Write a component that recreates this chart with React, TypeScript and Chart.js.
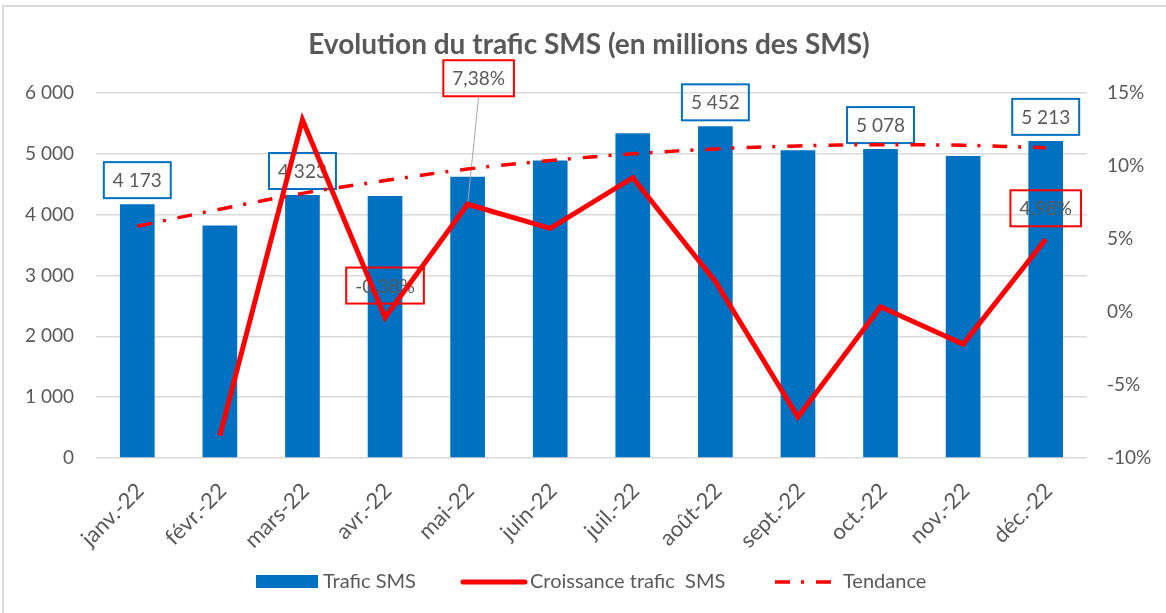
import React, { useEffect, useRef } from "react";
import { Chart, registerables } from "chart.js";
Chart.register(...registerables);

const months = ["janv.-22", "févr.-22", "mars-22", "avr.-22", "mai-22", "juin-22", "juil.-22", "août-22", "sept.-22", "oct.-22", "nov.-22", "déc.-22"];
const traficSMS = [4173, 3820, 4323, 4307, 4625, 4890, 5340, 5452, 5060, 5078, 4966, 5213];
const croissance = [null, -8.46, 13.17, -0.38, 7.38, 5.73, 9.2, 2.1, -7.19, 0.36, -2.2, 4.98];
const tendance = [3810, 4090, 4350, 4560, 4750, 4890, 5000, 5080, 5130, 5150, 5140, 5100];
const barLabelIdx = [0, 2, 7, 9, 11];
const growthLabelIdx = [3, 4, 11];
const legendLabels = ["Trafic SMS", "Croissance trafic  SMS", "Tendance"];
const titleText = "Evolution du trafic SMS (en millions des SMS)";

const GRAY = "#595959";
const BLUE = "#0070C0";
const RED = "#FF0000";
const FONT = "Lato";

const fmtThousands = (v: number) => {
  const s = Math.round(v).toString();
  return s.replace(/\B(?=(\d{3})+(?!\d))/g, " ");
};
const fmtPct = (v: number) => v.toFixed(2).replace(".", ",") + "%";

// label offsets (style only)
const growthOffsets: Record<number, [number, number]> = { 3: [0, -32], 4: [11, -126], 11: [0, -31] };

const decorPlugin = {
  id: "decor",
  beforeDraw(chart: any) {
    const ctx = chart.ctx;
    ctx.save();
    ctx.fillStyle = "#ffffff";
    ctx.fillRect(0, 0, chart.width, chart.height);
    ctx.strokeStyle = "#d9d9d9";
    ctx.lineWidth = 2;
    ctx.strokeRect(3, 6, chart.width + 20, chart.height + 20);
    // title
    ctx.fillStyle = GRAY;
    ctx.font = `bold 28px ${FONT}`;
    ctx.textAlign = "center";
    ctx.textBaseline = "middle";
    ctx.fillText(titleText, 589, 45);
    ctx.restore();
  },
  afterDatasetDraw(chart: any, args: any) {
    if (args.index !== 0) return;
    const ctx = chart.ctx;
    const barMeta = chart.getDatasetMeta(0);
    const lineMeta = chart.getDatasetMeta(1);
    ctx.save();
    ctx.font = `19px ${FONT}`;
    ctx.textAlign = "center";
    ctx.textBaseline = "middle";
    const box = (cx: number, cy: number, text: string, color: string) => {
      const w = ctx.measureText(text).width + 18;
      const h = 36;
      ctx.strokeStyle = color;
      ctx.lineWidth = 2;
      ctx.strokeRect(cx - w / 2, cy - h / 2, w, h);
      ctx.fillStyle = GRAY;
      ctx.fillText(text, cx, cy + 1);
      return { w, h };
    };
    barLabelIdx.forEach((i) => {
      const el = barMeta.data[i];
      box(el.x, el.y - 24, fmtThousands(traficSMS[i]), BLUE);
    });
    growthLabelIdx.forEach((i) => {
      const el = lineMeta.data[i];
      const [dx, dy] = growthOffsets[i];
      const cx = el.x + dx;
      const cy = el.y + dy;
      const { h } = box(cx, cy, fmtPct(croissance[i] as number), RED);
      if (Math.abs(dy) > 60) {
        ctx.strokeStyle = "#A6A6A6";
        ctx.lineWidth = 1;
        ctx.beginPath();
        ctx.moveTo(cx, cy + h / 2);
        ctx.lineTo(el.x, el.y);
        ctx.stroke();
      }
    });
    ctx.restore();
  },
  afterDraw(chart: any) {
    const ctx = chart.ctx;
    ctx.save();
    const y = 582;
    ctx.font = `20px ${FONT}`;
    ctx.textBaseline = "middle";
    ctx.textAlign = "left";
    // item 1
    ctx.fillStyle = BLUE;
    ctx.fillRect(256, y - 7, 62, 13);
    ctx.fillStyle = GRAY;
    ctx.fillText(legendLabels[0], 323, y);
    // item 2
    ctx.strokeStyle = RED;
    ctx.lineWidth = 5;
    ctx.lineCap = "round";
    ctx.beginPath();
    ctx.moveTo(463, y);
    ctx.lineTo(525, y);
    ctx.stroke();
    ctx.fillText(legendLabels[1], 530, y);
    // item 3
    ctx.lineWidth = 3.5;
    ctx.lineCap = "butt";
    ctx.setLineDash([15, 11, 3, 12]);
    ctx.beginPath();
    ctx.moveTo(775, y);
    ctx.lineTo(832, y);
    ctx.stroke();
    ctx.setLineDash([]);
    ctx.fillText(legendLabels[2], 843, y);
    ctx.restore();
  },
};

export default function App() {
  const ref = useRef<HTMLCanvasElement>(null);
  useEffect(() => {
    const canvas = ref.current!;
    const chart = new Chart(canvas, {
      type: "bar",
      data: {
        labels: months,
        datasets: [
          {
            type: "bar",
            label: legendLabels[0],
            data: traficSMS,
            backgroundColor: BLUE,
            borderWidth: 0,
            yAxisID: "y",
            order: 3,
            barPercentage: 0.42,
            categoryPercentage: 1,
          } as any,
          {
            type: "line",
            label: legendLabels[1],
            data: croissance,
            borderColor: RED,
            backgroundColor: RED,
            borderWidth: 5,
            pointRadius: 0,
            borderJoinStyle: "miter",
            yAxisID: "y1",
            order: 1,
            tension: 0,
          } as any,
          {
            type: "line",
            label: legendLabels[2],
            data: tendance,
            borderColor: RED,
            backgroundColor: RED,
            borderWidth: 3.5,
            borderDash: [15, 11, 3, 12],
            pointRadius: 0,
            yAxisID: "y",
            order: 2,
            tension: 0.4,
          } as any,
        ],
      },
      options: {
        responsive: false,
        animation: false,
        layout: { padding: { top: 93, left: 0, right: 0, bottom: 0 } },
        plugins: {
          legend: { display: false },
          title: { display: false },
          tooltip: { enabled: false },
        },
        scales: {
          x: {
            offset: true,
            grid: { display: false, drawTicks: false },
            border: { display: false },
            ticks: {
              color: GRAY,
              font: { family: FONT, size: 22 },
              minRotation: 45,
              maxRotation: 45,
              padding: 20,
              labelOffset: 3,
              autoSkip: false,
            },
            afterFit: (s: any) => {
              s.height = 155;
            },
          },
          y: {
            position: "left",
            min: 0,
            max: 6000,
            ticks: {
              stepSize: 1000,
              color: GRAY,
              font: { family: FONT, size: 19 },
              padding: 22,
              callback: (v: any) => fmtThousands(Number(v)),
            },
            grid: { color: "#d9d9d9", lineWidth: 1.5, drawTicks: false },
            border: { display: false },
            afterFit: (s: any) => {
              s.width = 96;
            },
          },
          y1: {
            position: "right",
            min: -10,
            max: 15,
            ticks: {
              stepSize: 5,
              color: GRAY,
              font: { family: FONT, size: 19 },
              padding: 20,
              callback: (v: any) => `${v}%`,
            },
            grid: { display: false, drawTicks: false },
            border: { display: false },
            afterFit: (s: any) => {
              s.width = 79;
            },
          },
        },
      } as any,
      plugins: [decorPlugin],
    });
    return () => chart.destroy();
  }, []);
  return (
    <canvas
      ref={ref}
      width={1166}
      height={613}
      style={{ position: "absolute", left: 0, top: 0, display: "block" }}
    />
  );
}
